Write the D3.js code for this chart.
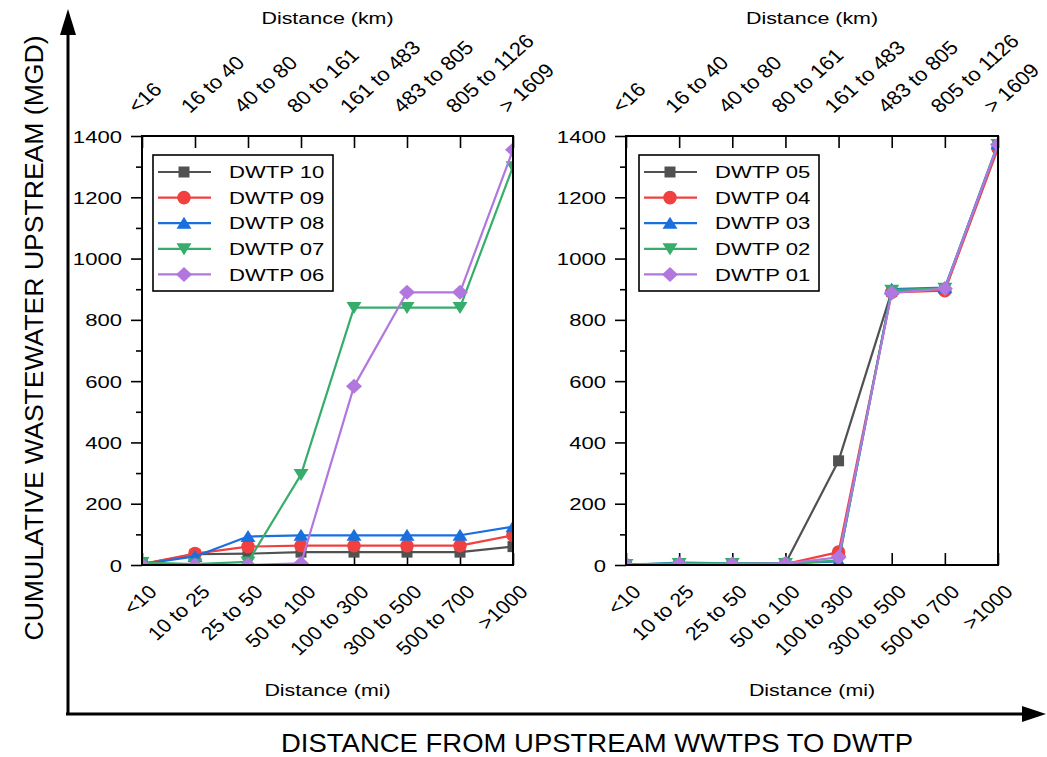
<!DOCTYPE html>
<html>
<head>
<meta charset="utf-8">
<script src="https://cdn.jsdelivr.net/npm/d3@7"></script>
<style>
  body { margin: 0; background: #fff; }
  text { font-family: "Liberation Sans", Arial, sans-serif; fill: #000; }
</style>
</head>
<body>
<svg id="chart" width="1047" height="757"></svg>
<script>
// Distance classes (miles on the bottom axis, kilometres on the top axis)
const categories = ["<10", "10 to 25", "25 to 50", "50 to 100", "100 to 300", "300 to 500", "500 to 700", ">1000"];
const kmLabels = ["<16", "16 to 40", "40 to 80", "80 to 161", "161 to 483", "483 to 805", "805 to 1126", "> 1609"];
const yTickValues = [0, 200, 400, 600, 800, 1000, 1200, 1400];
const yMinorValues = [100, 300, 500, 700, 900, 1100, 1300];

// Cumulative wastewater upstream (MGD), left panel
const leftNames = ["DWTP 10", "DWTP 09", "DWTP 08", "DWTP 07", "DWTP 06"];
const dwtp10 = [3, 35, 37, 42, 42, 42, 42, 60];
const dwtp09 = [3, 37, 60, 63, 63, 63, 63, 97];
const dwtp08 = [3, 28, 93, 97, 97, 97, 97, 125];
const dwtp07 = [8, 3, 10, 295, 840, 840, 840, 1300];
const dwtp06 = [0, 0, 0, 5, 583, 890, 890, 1355];

// Cumulative wastewater upstream (MGD), right panel
const rightNames = ["DWTP 05", "DWTP 04", "DWTP 03", "DWTP 02", "DWTP 01"];
const dwtp05 = [0, 3, 3, 5, 340, 893, 900, 1368];
const dwtp04 = [0, 0, 0, 3, 42, 890, 895, 1360];
const dwtp03 = [0, 8, 5, 5, 12, 900, 905, 1375];
const dwtp02 = [2, 5, 5, 5, 14, 897, 903, 1372];
const dwtp01 = [0, 3, 3, 5, 25, 888, 902, 1372];

const colors = ["#515151", "#F14040", "#1A6FDF", "#37AD6B", "#B177DE"];
const shapes = ["square", "circle", "triangleUp", "triangleDown", "diamond"];

const svg = d3.select("#chart");
const FONT = 17;
const SX = 1.3;   // horizontal stretch of upright text
const SXR = 1.12; // horizontal stretch of slanted tick labels

function markerPath(shape) {
  switch (shape) {
    case "square": return "M-5.5,-5.5H5.5V5.5H-5.5Z";
    case "circle": return d3.symbol(d3.symbolCircle, Math.PI * 6.8 * 6.8)();
    case "triangleUp": return "M0,-6.5L7.5,5.5L-7.5,5.5Z";
    case "triangleDown": return "M0,6.5L7.5,-5.5L-7.5,-5.5Z";
    case "diamond": return "M0,-7.5L8,0L0,7.5L-8,0Z";
  }
}

const plotTop = 136, plotBottom = 565;
const panels = [
  { id: "L", x0: 142, x1: 513, names: leftNames, series: [dwtp10, dwtp09, dwtp08, dwtp07, dwtp06], legendX: 153 },
  { id: "R", x0: 626, x1: 998, names: rightNames, series: [dwtp05, dwtp04, dwtp03, dwtp02, dwtp01], legendX: 639 }
];

const defs = svg.append("defs");

panels.forEach(p => {
  const x = d3.scalePoint().domain(categories).range([p.x0, p.x1]);
  const y = d3.scaleLinear().domain([0, 1400]).range([plotBottom, plotTop]);
  const g = svg.append("g");

  defs.append("clipPath").attr("id", "clip" + p.id)
    .append("rect").attr("x", p.x0).attr("y", plotTop)
    .attr("width", p.x1 - p.x0).attr("height", plotBottom - plotTop);

  // left value axis: major and minor ticks pointing outward
  const yAxis = g.append("g").attr("transform", `translate(${p.x0},0)`)
    .call(d3.axisLeft(y).tickValues(yTickValues).tickFormat(d3.format("d"))
      .tickSizeInner(11).tickSizeOuter(0));
  yAxis.select(".domain").remove();
  yAxis.selectAll("line").attr("stroke", "#000").attr("stroke-width", 1.6);
  yAxis.selectAll("text")
    .attr("x", null).attr("dy", "0.36em")
    .attr("transform", `translate(-20,0) scale(${SX},1)`)
    .attr("font-size", null).attr("font-family", null)
    .style("font-size", FONT + "px");
  const yMinor = g.append("g").attr("transform", `translate(${p.x0},0)`)
    .call(d3.axisLeft(y).tickValues(yMinorValues).tickSizeInner(6).tickSizeOuter(0).tickFormat(""));
  yMinor.select(".domain").remove();
  yMinor.selectAll("line").attr("stroke", "#000").attr("stroke-width", 1.6);

  // bottom and top category axes with inward ticks
  const xBottom = g.append("g").attr("transform", `translate(0,${plotBottom})`)
    .call(d3.axisBottom(x).tickSizeInner(-12).tickSizeOuter(0).tickFormat(""));
  xBottom.select(".domain").remove();
  xBottom.selectAll("line").attr("stroke", "#000").attr("stroke-width", 1.6);
  const xTop = g.append("g").attr("transform", `translate(0,${plotTop})`)
    .call(d3.axisTop(x).tickSizeInner(-12).tickSizeOuter(0).tickFormat(""));
  xTop.select(".domain").remove();
  xTop.selectAll("line").attr("stroke", "#000").attr("stroke-width", 1.6);

  // slanted category labels
  g.append("g").selectAll("text").data(categories).join("text")
    .attr("transform", d => `translate(${x(d) + 16},593) scale(${SXR},1) rotate(-45)`)
    .attr("text-anchor", "end")
    .style("font-size", "19px")
    .text(d => d);
  g.append("g").selectAll("text").data(categories).join("text")
    .attr("transform", d => `translate(${x(d) - 5},114) scale(${SXR},1) rotate(-45)`)
    .attr("text-anchor", "start")
    .style("font-size", "19.5px")
    .text((d, i) => kmLabels[i]);

  // axis titles
  const mid = (p.x0 + p.x1) / 2;
  g.append("text").attr("transform", `translate(${mid},696) scale(${SX},1)`)
    .attr("text-anchor", "middle").style("font-size", "16.5px").text("Distance (mi)");
  g.append("text").attr("transform", `translate(${mid},24) scale(${SX},1)`)
    .attr("text-anchor", "middle").style("font-size", "16.5px").text("Distance (km)");

  // series lines and markers
  const plot = g.append("g").attr("clip-path", `url(#clip${p.id})`);
  const line = d3.line().x((d, i) => x(categories[i])).y(d => y(d));
  p.series.forEach((vals, si) => {
    const sg = plot.append("g");
    sg.append("path").datum(vals).attr("d", line)
      .attr("fill", "none").attr("stroke", colors[si]).attr("stroke-width", 2.2)
      .attr("stroke-linejoin", "round");
    sg.selectAll("path.m").data(vals).join("path").attr("class", "m")
      .attr("transform", (d, i) => `translate(${x(categories[i])},${y(d)})`)
      .attr("d", markerPath(shapes[si])).attr("fill", colors[si]);
  });

  // frame
  g.append("rect").attr("x", p.x0).attr("y", plotTop)
    .attr("width", p.x1 - p.x0).attr("height", plotBottom - plotTop)
    .attr("fill", "none").attr("stroke", "#000").attr("stroke-width", 2);

  // legend
  const lg = g.append("g").attr("transform", `translate(${p.legendX},155)`);
  lg.append("rect").attr("width", 180).attr("height", 136)
    .attr("fill", "#fff").attr("stroke", "#000").attr("stroke-width", 1.6);
  p.names.forEach((name, si) => {
    const ry = 17 + si * 25.6;
    lg.append("line").attr("x1", 5).attr("x2", 58).attr("y1", ry).attr("y2", ry)
      .attr("stroke", colors[si]).attr("stroke-width", 2.2);
    lg.append("path").attr("transform", `translate(31,${ry})`)
      .attr("d", markerPath(shapes[si])).attr("fill", colors[si]);
    lg.append("text").attr("transform", `translate(76,${ry}) scale(${SX},1)`)
      .attr("dy", "0.36em").style("font-size", FONT + "px").text(name);
  });
});

// overall axes with arrows
svg.append("line").attr("x1", 68).attr("y1", 715).attr("x2", 68).attr("y2", 28)
  .attr("stroke", "#000").attr("stroke-width", 3);
svg.append("path").attr("d", "M68,9L76,35L60,35Z").attr("fill", "#000");
svg.append("line").attr("x1", 66).attr("y1", 714).attr("x2", 1025).attr("y2", 714)
  .attr("stroke", "#000").attr("stroke-width", 3);
svg.append("path").attr("d", "M1046,714L1022,706L1022,722Z").attr("fill", "#000");

svg.append("text").attr("transform", "translate(43,338) rotate(-90)")
  .attr("text-anchor", "middle").style("font-size", "26px")
  .attr("textLength", 605).attr("lengthAdjust", "spacingAndGlyphs")
  .text("CUMULATIVE WASTEWATER UPSTREAM (MGD)");
svg.append("text").attr("x", 597).attr("y", 752)
  .attr("text-anchor", "middle").style("font-size", "26px")
  .attr("textLength", 632).attr("lengthAdjust", "spacingAndGlyphs")
  .text("DISTANCE FROM UPSTREAM WWTPS TO DWTP");
</script>
</body>
</html>
